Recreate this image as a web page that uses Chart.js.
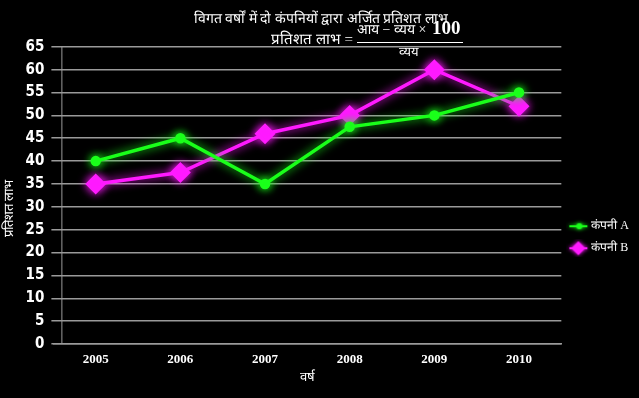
<!DOCTYPE html>
<html>
<head>
<meta charset="utf-8">
<script src="https://cdn.jsdelivr.net/npm/chart.js@4.4.0/dist/chart.umd.min.js"></script>
<style>
  html, body { margin: 0; padding: 0; background: #000; }
  #wrap { width: 639px; height: 398px; }
</style>
</head>
<body>
<div id="wrap"><canvas id="myChart"></canvas></div>
<script>
const years = ['2005', '2006', '2007', '2008', '2009', '2010'];
const companyA = [40, 45, 35, 47.5, 50, 55];
const companyB = [35, 37.5, 46, 50, 60, 52];
const seriesNames = ['कंपनी A', 'कंपनी B'];

const GREEN = '#1aff1a';
const MAGENTA = '#ff1aff';

// little legend swatches: line + marker
function swatch(color, shape) {
  const c = document.createElement('canvas');
  c.width = 24; c.height = 18;
  const g = c.getContext('2d');
  g.strokeStyle = color;
  g.fillStyle = color;
  g.lineWidth = 2;
  g.shadowColor = color;
  g.shadowBlur = 4;
  g.beginPath(); g.moveTo(3, 9); g.lineTo(21, 9); g.stroke();
  g.beginPath();
  if (shape === 'circle') {
    g.arc(13, 9, 3, 0, Math.PI * 2);
  } else {
    g.moveTo(12, 2); g.lineTo(19, 9); g.lineTo(12, 16); g.lineTo(5, 9); g.closePath();
  }
  g.fill();
  return c;
}
const swatches = [swatch(GREEN, 'circle'), swatch(MAGENTA, 'diamond')];

const glow = {
  id: 'glow',
  beforeDatasetDraw(chart, args) {
    const ds = chart.data.datasets[args.index];
    chart.ctx.save();
    chart.ctx.shadowColor = ds.borderColor;
    chart.ctx.shadowBlur = 10;
  },
  afterDatasetDraw(chart) {
    chart.ctx.restore();
  }
};

const bg = {
  id: 'bg',
  beforeDraw(chart) {
    const ctx = chart.ctx;
    ctx.save();
    ctx.fillStyle = '#000';
    ctx.fillRect(0, 0, chart.width, chart.height);
    ctx.restore();
  }
};

// y axis line sits a bit inside the category area, plus the formula under the title
const extras = {
  id: 'extras',
  afterDraw(chart) {
    const ctx = chart.ctx;
    const a = chart.chartArea;
    ctx.save();
    ctx.strokeStyle = '#9a9a9a';
    ctx.lineWidth = 1;
    ctx.beginPath();
    ctx.moveTo(a.left + 8.5, a.top);
    ctx.lineTo(a.left + 8.5, a.bottom);
    ctx.stroke();

    ctx.fillStyle = '#fff';
    ctx.textBaseline = 'middle';
    ctx.font = '15px "Liberation Serif", serif';
    ctx.textAlign = 'right';
    ctx.fillText('प्रतिशत लाभ =', 353, 40);
    ctx.textAlign = 'left';
    ctx.font = '14px "Liberation Serif", serif';
    ctx.fillText('आय − व्यय ×', 357, 30);
    ctx.font = 'bold 19px "Liberation Serif", serif';
    ctx.fillText('100', 432, 29);
    ctx.strokeStyle = '#fff';
    ctx.beginPath();
    ctx.moveTo(357, 42.5);
    ctx.lineTo(463, 42.5);
    ctx.stroke();
    ctx.font = '13px "Liberation Serif", serif';
    ctx.textAlign = 'center';
    ctx.fillText('व्यय', 409, 53);
    ctx.restore();
  }
};

new Chart(document.getElementById('myChart').getContext('2d'), {
  type: 'line',
  data: {
    labels: years,
    datasets: [
      {
        label: seriesNames[0],
        data: companyA,
        borderColor: GREEN,
        backgroundColor: GREEN,
        borderWidth: 3.5,
        pointStyle: 'circle',
        pointRadius: 3.5,
        tension: 0
      },
      {
        label: seriesNames[1],
        data: companyB,
        borderColor: MAGENTA,
        backgroundColor: MAGENTA,
        borderWidth: 3.5,
        pointStyle: 'rectRot',
        pointRadius: 8,
        tension: 0
      }
    ]
  },
  options: {
    responsive: true,
    maintainAspectRatio: false,
    animation: false,
    layout: { padding: { left: 2, right: 0, bottom: 0 } },
    plugins: {
      tooltip: { enabled: false },
      title: {
        display: true,
        text: 'विगत वर्षों में दो कंपनियों द्वारा अर्जित प्रतिशत लाभ',
        color: '#fff',
        font: { size: 14, family: '"Liberation Serif", serif', weight: 'normal' },
        padding: { top: 11, bottom: 19 }
      },
      legend: {
        position: 'right',
        maxWidth: 78,
        title: {
          display: true,
          text: ' ',
          font: { size: 12 },
          padding: { top: 62, bottom: 0 }
        },
        labels: {
          color: '#fff',
          font: { size: 12, family: '"Liberation Serif", serif' },
          usePointStyle: true,
          pointStyleWidth: 14,
          boxHeight: 18,
          padding: 10,
          generateLabels(chart) {
            return chart.data.datasets.map((ds, i) => ({
              text: ds.label,
              fontColor: '#fff',
              pointStyle: swatches[i],
              datasetIndex: i,
              lineWidth: 0,
              strokeStyle: 'transparent',
              fillStyle: 'transparent'
            }));
          }
        }
      }
    },
    scales: {
      x: {
        offset: true,
        grid: { display: false, drawTicks: false },
        border: { display: true, color: '#9a9a9a', width: 1.5 },
        ticks: {
          color: '#fff',
          padding: 9,
          font: { size: 13, weight: 'bold', family: '"Liberation Serif", serif', lineHeight: 1 }
        },
        title: {
          display: true,
          text: 'वर्ष',
          color: '#fff',
          font: { size: 13, family: '"Liberation Serif", serif', lineHeight: 1 },
          padding: { top: -4, bottom: 14 }
        }
      },
      y: {
        min: 0,
        max: 65,
        ticks: {
          stepSize: 5,
          color: '#fff',
          padding: 7,
          font: { size: 15, weight: 'condensed bold', family: '"DejaVu Sans", sans-serif' }
        },
        grid: { color: '#9a9a9a', lineWidth: 1.5, tickLength: 2 },
        border: { display: false },
        title: {
          display: true,
          text: 'प्रतिशत लाभ' + '\u00A0'.repeat(8),
          color: '#fff',
          font: { size: 13, family: '"Liberation Serif", serif' },
          padding: { top: 0, bottom: 1 }
        }
      }
    }
  },
  plugins: [bg, glow, extras]
});
</script>
</body>
</html>
